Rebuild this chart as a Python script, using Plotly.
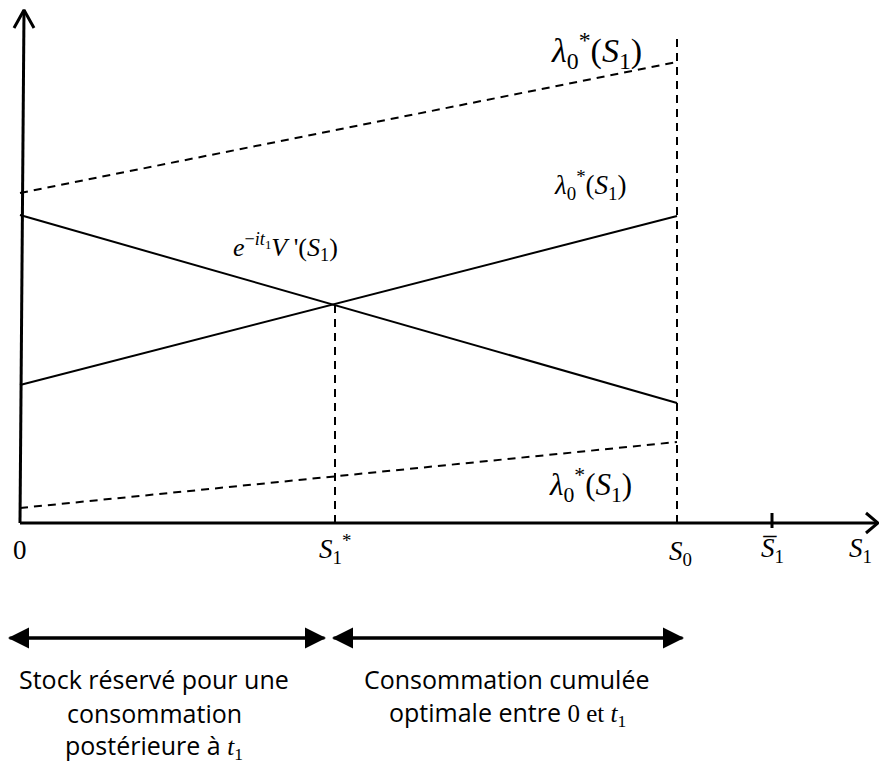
import plotly.graph_objects as go

# ---- data (conceptual units) ----
S1_star = 3.15          # S1*
S0 = 6.57               # S0
S1_bar = 7.52           # S̄1
x_axis_end = 8.58
y_axis_top = 5.13

lam_high = [3.30, 4.61]   # upper dashed λ0*(S1) at S=0 and S=S0
lam_mid = [1.38, 3.07]    # solid λ0*(S1)
vprime = [3.08, 1.20]     # solid e^{-it1} V'(S1)
lam_low = [0.15, 0.81]    # lower dashed λ0*(S1)
s_ends = [0, S0]

def interp(v, x):
    return v[0] + (v[1] - v[0]) * x / S0
y_star = interp(lam_mid, S1_star)

fig = go.Figure()
blk = "black"
serif = "Liberation Serif, Times New Roman, serif"

def line(xs, ys, width=2, dash=None):
    fig.add_trace(go.Scatter(x=xs, y=ys, mode="lines",
                             line=dict(color=blk, width=width, dash=dash),
                             hoverinfo="skip", showlegend=False))

DASH = "8px,6px"
line(s_ends, lam_high, 2, DASH)
line(s_ends, lam_mid, 2)
line(s_ends, vprime, 2)
line(s_ends, lam_low, 2, DASH)
line([S1_star, S1_star], [0, y_star], 2, DASH)
line([S0, S0], [0, 4.90], 2, DASH)

# axes
line([0, 0.04], [0, y_axis_top], 3)
line([-0.06, 0.04, 0.14], [y_axis_top - 0.18, y_axis_top, y_axis_top - 0.18], 3)
line([0, x_axis_end], [0, 0], 3)
line([x_axis_end - 0.12, x_axis_end, x_axis_end - 0.12], [0.10, 0, -0.10], 3)
line([S1_bar, S1_bar], [-0.05, 0.10], 3)

# double arrows below
arr_y = -1.15
for a, b in [(-0.12, 3.06), (3.12, 6.64)]:
    for tip, tail in [(a, b), (b, a)]:
        fig.add_annotation(x=tip, y=arr_y, ax=tail, ay=arr_y, xref="x", yref="y",
                           axref="x", ayref="y", showarrow=True, arrowhead=2,
                           arrowsize=1.4, arrowwidth=3, arrowcolor=blk, text="",
                           standoff=0, startstandoff=0)

def txt(x, y, s, size, font=serif):
    fig.add_annotation(x=x, y=y, xref="x", yref="y", text=s, showarrow=False,
                       font=dict(family=font, size=size, color=blk))

lam = "<i>λ</i><sub>0</sub><sup>*</sup>(<i>S</i><sub>1</sub>)"
txt(5.76, 4.73, lam, 34)
txt(5.70, 3.38, lam, 27)
txt(5.70, 0.38, lam, 31)
txt(2.65, 2.76, "<i>e</i><sup>−<i>it</i><sub>1</sub></sup><i>V</i> '(<i>S</i><sub>1</sub>)", 26)

txt(0.0, -0.27, "0", 27)
txt(S1_star, -0.26, "<i>S</i><sub>1</sub><sup>*</sup>", 27)
txt(S0 + 0.03, -0.30, "<i>S</i><sub>0</sub>", 27)
txt(S1_bar, -0.27, "<i>S\u0305</i><sub>1</sub>", 27)
txt(8.40, -0.27, "<i>S</i><sub>1</sub>", 27)

sans = "Open Sans, Lato, sans-serif"
tser = "<span style='font-family:Liberation Serif'>%s</span>"
txt(1.34, -1.56, "Stock réservé pour une", 25, sans)
txt(1.34, -1.90, "consommation", 25, sans)
txt(1.34, -2.23, "postérieure à " + tser % "<i>t</i><sub>1</sub>", 25, sans)
txt(4.87, -1.56, "Consommation cumulée", 25, sans)
txt(4.87, -1.90, "optimale entre " + tser % "0 et <i>t</i><sub>1</sub>", 25, sans)

fig.update_layout(width=879, height=763, margin=dict(l=0, r=0, t=0, b=0),
                  paper_bgcolor="white", plot_bgcolor="white", showlegend=False,
                  xaxis=dict(range=[-0.20, 8.59], visible=False, fixedrange=True),
                  yaxis=dict(range=[-2.40, 5.23], visible=False, fixedrange=True))

fig.write_html("out.html", config={"displayModeBar": False},
               post_script="document.body.style.margin='0';document.body.style.overflow='hidden';")
